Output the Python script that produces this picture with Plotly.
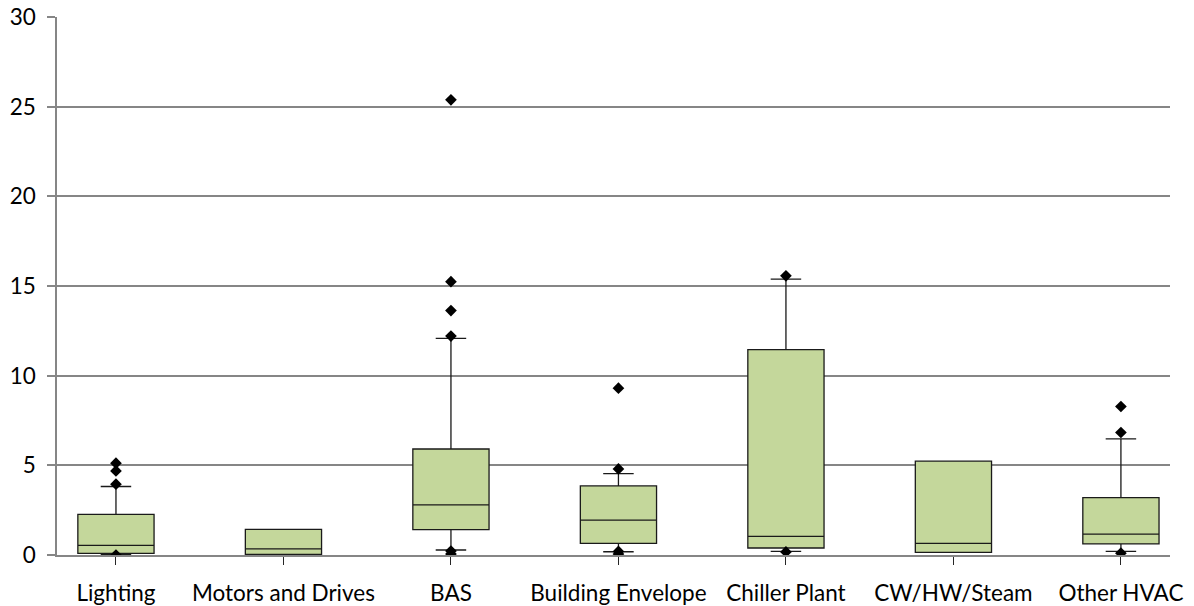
import plotly.graph_objects as go

categories = ["Lighting", "Motors and Drives", "BAS", "Building Envelope",
              "Chiller Plant", "CW/HW/Steam", "Other HVAC"]
q1 = [0.09, 0.04, 1.41, 0.65, 0.39, 0.15, 0.62]
median = [0.54, 0.34, 2.79, 1.94, 1.04, 0.65, 1.16]
q3 = [2.27, 1.43, 5.91, 3.85, 11.45, 5.23, 3.20]
lower_whisker = [0.02, 0.04, 0.28, 0.18, 0.20, 0.15, 0.20]
upper_whisker = [3.82, 1.43, 12.08, 4.54, 15.38, 5.23, 6.48]

outlier_cat = [0, 0, 0, 0,
               2, 2, 2, 2, 2, 2,
               3, 3, 3, 3,
               4, 4,
               6, 6, 6]
outlier_val = [5.12, 4.69, 3.95, 0.0,
               25.38, 15.24, 13.63, 12.21, 0.22, 0.05,
               9.30, 4.80, 0.20, 0.05,
               15.57, 0.17,
               8.28, 6.83, 0.10]

y_ticks = [0, 5, 10, 15, 20, 25, 30]

pos = list(range(len(categories)))

fig = go.Figure()
fig.add_trace(go.Box(
    x=pos, q1=q1, median=median, q3=q3,
    lowerfence=lower_whisker, upperfence=upper_whisker,
    fillcolor="#C4D79B",
    line=dict(color="#1a1a1a", width=1.3),
    width=0.455, whiskerwidth=0.4,
    boxpoints=False, showlegend=False, hoverinfo="skip",
))
fig.add_trace(go.Scatter(
    x=outlier_cat, y=outlier_val, mode="markers",
    marker=dict(symbol="diamond", size=9, color="black"),
    showlegend=False, hoverinfo="skip",
))

font = dict(family="Lato, Calibri, sans-serif", size=22.5, color="black")
fig.update_layout(
    width=1194, height=606,
    margin=dict(l=57, r=24, t=17, b=51),
    plot_bgcolor="white", paper_bgcolor="white",
    font=font,
    xaxis=dict(
        range=[-0.352, 6.293],
        tickvals=pos, ticktext=categories,
        ticks="outside", ticklen=8, tickcolor="#262626", tickwidth=1.3,
        showgrid=False, zeroline=False, automargin=False,
        showline=True, linecolor="#868686", linewidth=1.5,
        tickfont=font, ticklabelstandoff=9,
    ),
    yaxis=dict(
        range=[0, 30], tickvals=y_ticks,
        ticks="outside", ticklen=8, tickcolor="#868686", tickwidth=1.5,
        showgrid=True, gridcolor="#868686", gridwidth=1.5,
        zeroline=False, automargin=False,
        showline=True, linecolor="#868686", linewidth=1.5,
        tickfont=font, ticklabelstandoff=7,
    ),
)
fig.write_html(
    "out.html",
    config={"displayModeBar": False},
    post_script="document.body.style.margin='0';document.body.style.overflow='hidden';",
)
